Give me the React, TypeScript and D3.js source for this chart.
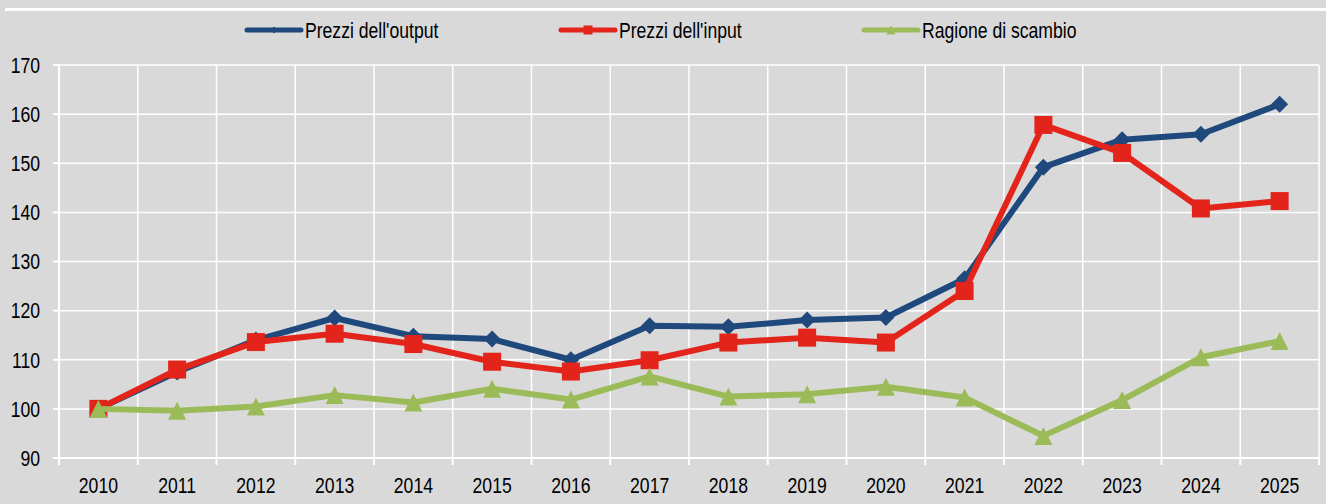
import React from "react";
import * as d3 from "d3";

const years = ["2010","2011","2012","2013","2014","2015","2016","2017","2018","2019","2020","2021","2022","2023","2024","2025"];
const outputPrices = [100,107.5,114,118.5,114.8,114.2,110.0,116.9,116.7,118.1,118.6,126.5,149.2,154.8,155.9,162.0];
const inputPrices = [100,108,113.6,115.3,113.2,109.6,107.6,109.9,113.5,114.5,113.5,124,157.8,152.1,140.8,142.3];
const termsOfTrade = [100,99.6,100.5,102.8,101.3,104.1,101.9,106.6,102.5,103.0,104.5,102.3,94.5,101.8,110.5,113.8];
const yTicks = [90,100,110,120,130,140,150,160,170];
const seriesNames = ["Prezzi dell'output","Prezzi dell'input","Ragione di scambio"];
const seriesColors = ["#1f497d","#e3241b","#9bbb59"];

const W = 1326, H = 504;
const left = 59, right = 1319, top = 65, bottom = 458;
const FONT = "'Liberation Sans', Arial, sans-serif";
const SX = 0.8;

function Marker({ kind, x, y, color, s }: { kind: number; x: number; y: number; color: string; s: number }) {
  if (kind === 0) {
    const r = s;
    return <path d={`M${x},${y - r}L${x + r},${y}L${x},${y + r}L${x - r},${y}Z`} fill={color} />;
  }
  if (kind === 1) {
    return <rect x={x - s} y={y - s} width={2 * s} height={2 * s} fill={color} />;
  }
  return <path d={`M${x},${y - s}L${x + s},${y + s}L${x - s},${y + s}Z`} fill={color} />;
}

function NText({ x, y, anchor, children, size = 22 }: { x: number; y: number; anchor: string; children: any; size?: number }) {
  return (
    <text transform={`translate(${x},${y}) scale(${SX},1)`} textAnchor={anchor} fontSize={size} fill="#000">
      {children}
    </text>
  );
}

export default function App() {
  const x = d3.scaleBand<string>().domain(years).range([left, right]);
  const y = d3.scaleLinear().domain([90, 170]).range([bottom, top]);
  const cx = (d: string) => (x(d) as number) + x.bandwidth() / 2;
  const data = [outputPrices, inputPrices, termsOfTrade];
  const line = d3.line<number>().x((_, i) => cx(years[i])).y((v) => y(v));
  const boundaries = years.map((d) => x(d) as number).concat([right]);
  const legendX = [245, 559, 862];
  const markerSizes = [8.5, 9, 9];

  return (
    <svg width={W} height={H} style={{ position: "absolute", left: 0, top: 0, background: "#d9d9d9" }} fontFamily={FONT}>
      <rect x={0} y={0} width={W} height={H} fill="#d9d9d9" />
      <line x1={5} x2={W} y1={9.5} y2={9.5} stroke="#ffffff" strokeWidth={3} />
      {/* grid */}
      {yTicks.slice(1).map((t) => (
        <line key={"gy" + t} x1={left} x2={right} y1={y(t)} y2={y(t)} stroke="#ffffff" strokeWidth={1.5} />
      ))}
      {boundaries.slice(1).map((b, i) => (
        <line key={"gx" + i} x1={b} x2={b} y1={top} y2={bottom} stroke="#ffffff" strokeWidth={1.5} />
      ))}
      {/* axes */}
      <line x1={left} x2={left} y1={top} y2={bottom} stroke="#ffffff" strokeWidth={2.2} />
      <line x1={left} x2={right} y1={bottom} y2={bottom} stroke="#ffffff" strokeWidth={2.2} />
      {yTicks.map((t) => (
        <g key={"yt" + t}>
          <line x1={left - 6} x2={left} y1={y(t)} y2={y(t)} stroke="#ffffff" strokeWidth={2} />
          <NText x={40} y={y(t) + 7.8} anchor="end">{t}</NText>
        </g>
      ))}
      {boundaries.map((b, i) => (
        <line key={"xt" + i} x1={b} x2={b} y1={bottom} y2={bottom + 7} stroke="#ffffff" strokeWidth={2} />
      ))}
      {years.map((d) => (
        <NText key={"xl" + d} x={cx(d)} y={492.5} anchor="middle">{d}</NText>
      ))}
      {/* series */}
      {data.map((vals, si) => (
        <g key={"s" + si}>
          <path d={line(vals) || ""} fill="none" stroke={seriesColors[si]} strokeWidth={6} strokeLinejoin="round" />
          {vals.map((v, i) => (
            <Marker key={i} kind={si} x={cx(years[i])} y={y(v)} color={seriesColors[si]} s={markerSizes[si]} />
          ))}
        </g>
      ))}
      {/* legend */}
      {seriesNames.map((n, i) => (
        <g key={"lg" + i}>
          <line x1={legendX[i] + 2} x2={legendX[i] + 56} y1={30} y2={30} stroke={seriesColors[i]} strokeWidth={5} strokeLinecap="round" />
          <Marker kind={i} x={legendX[i] + 29} y={30} color={seriesColors[i]} s={i === 0 ? 3.5 : 4.5} />
          <NText x={legendX[i] + 60} y={38} anchor="start">{n}</NText>
        </g>
      ))}
    </svg>
  );
}
